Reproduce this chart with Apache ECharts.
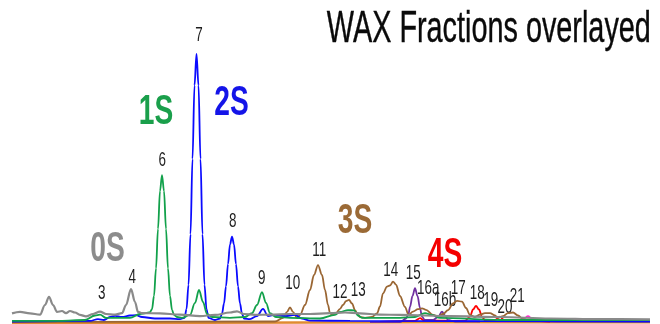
<!DOCTYPE html>
<html>
<head>
<meta charset="utf-8">
<script src="https://cdn.jsdelivr.net/npm/echarts@6/dist/echarts.min.js"></script>
<style>
  html, body { margin: 0; padding: 0; background: #ffffff; }
  #chart { width: 660px; height: 324px; }
</style>
</head>
<body>
<div id="chart"></div>
<script>
// Overlaid chromatograms of the WAX fractions: [retention time (min), detector signal]
const fraction0S = [
  [1.2, 3.2], [2.0, 3.7], [3.0, 3.2], [4.0, 2.8], [4.5, 6.0], [4.9, 8.7], [5.3, 6.0],
  [5.7, 3.7], [6.2, 4.0], [6.6, 3.3], [7.0, 4.0], [7.5, 3.5], [8.0, 2.7], [8.6, 2.2],
  [9.3, 3.0], [10.0, 3.8], [10.6, 3.0], [11.5, 2.8], [12.2, 3.3], [12.6, 6.0], [13.1, 11.3],
  [13.5, 7.0], [13.8, 3.7], [14.2, 3.3], [16.0, 3.2], [18.0, 2.8], [20.0, 2.3], [21.5, 2.7],
  [23.0, 3.5], [23.7, 3.9], [24.4, 3.0], [25.5, 2.7], [27.0, 2.8], [29.0, 3.0], [31.0, 3.0],
  [33.0, 3.3], [34.5, 3.5], [36.0, 3.2], [38.0, 2.8], [40.0, 2.7], [45.0, 2.3], [50.0, 2.0],
  [55.0, 1.5], [60.0, 1.3], [65.0, 1.2]
];
const fraction1S = [
  [1.2, 0.7], [6.0, 0.7], [8.5, 1.0], [9.5, 2.5], [10.0, 2.8], [10.6, 1.7], [11.5, 1.7],
  [13.0, 1.7], [14.0, 3.0], [14.6, 3.3], [15.0, 3.6], [15.2, 4.6], [15.4, 9.0], [15.6, 18.2],
  [15.8, 31.4], [16.0, 44.0], [16.2, 49.3], [16.4, 44.0], [16.6, 31.4], [16.8, 18.2],
  [17.0, 9.0], [17.2, 4.4], [17.4, 2.7], [17.7, 2.0], [18.2, 1.7], [19.0, 2.7], [19.5, 6.7],
  [19.9, 11.0], [20.3, 7.0], [20.7, 3.0], [21.2, 2.0], [23.0, 1.7], [24.5, 2.0], [25.2, 3.3],
  [25.7, 6.0], [26.2, 10.3], [26.6, 6.7], [27.0, 3.3], [27.6, 2.0], [29.0, 1.7], [32.0, 1.5],
  [33.5, 2.7], [34.0, 3.7], [34.8, 4.3], [35.4, 4.2], [35.8, 2.5], [36.2, 1.7], [40.0, 1.7],
  [41.5, 2.0], [42.5, 3.3], [43.2, 2.7], [44.0, 1.7], [50.0, 1.0], [65.0, 1.0]
];
const fraction2S = [
  [1.2, 0.5], [9.0, 0.7], [9.8, 1.3], [10.4, 1.0], [11.0, 2.0], [11.5, 2.4], [12.2, 2.0],
  [13.0, 2.5], [13.6, 2.6], [14.2, 2.0], [15.5, 1.5], [17.0, 1.5], [18.0, 1.3],
  [18.45, 1.7], [18.65, 4.6], [18.85, 12.7], [19.05, 29.6], [19.25, 54.7], [19.45, 79.2],
  [19.65, 89.7], [19.85, 79.2], [20.05, 54.7], [20.25, 29.6], [20.45, 12.7], [20.65, 4.6],
  [20.85, 1.7], [21.5, 1.0], [22.0, 1.5], [22.2, 3.1], [22.4, 6.5], [22.6, 12.2], [22.8, 19.6],
  [23.0, 26.2], [23.2, 28.8], [23.4, 26.2], [23.6, 19.6], [23.8, 12.2], [24.0, 6.5],
  [24.2, 3.1], [24.4, 1.5], [25.0, 1.3], [25.7, 2.3], [26.3, 4.7], [26.8, 2.3], [27.5, 2.7],
  [28.5, 2.3], [29.5, 2.7], [30.2, 1.5], [31.0, 0.8], [35.0, 0.7], [65.0, 0.5]
];
const fraction3S = [
  [1.2, 0.3], [27.5, 0.5], [28.3, 1.7], [28.7, 3.7], [29.0, 5.2], [29.3, 3.7], [29.7, 1.7],
  [30.0, 2.7], [30.5, 6.0], [31.0, 11.0], [31.4, 16.0], [31.8, 19.3], [32.2, 16.0],
  [32.5, 11.0], [32.8, 6.0], [33.0, 3.3], [33.2, 2.7], [33.6, 3.3], [34.0, 4.7], [34.3, 6.0],
  [34.6, 7.3], [34.9, 7.7], [35.2, 6.5], [35.5, 4.3], [35.8, 2.7], [36.0, 2.0], [36.5, 1.7],
  [37.2, 2.0], [37.7, 3.2], [38.0, 5.5], [38.3, 9.9], [38.7, 12.1], [39.0, 12.5], [39.3, 13.8],
  [39.6, 12.8], [40.0, 9.0], [40.5, 5.4], [40.85, 2.7], [41.3, 3.8], [41.8, 4.6], [42.2, 4.9],
  [42.6, 4.4], [43.3, 2.7], [43.8, 2.2], [44.3, 3.0], [44.8, 4.3], [45.3, 6.5], [45.7, 7.4],
  [46.2, 7.1], [46.6, 5.0], [47.0, 2.7], [47.5, 2.0], [48.0, 2.8], [48.5, 3.3], [49.0, 3.3],
  [49.5, 2.5], [49.8, 1.7], [50.3, 2.3], [50.8, 3.3], [51.3, 3.5], [51.8, 2.5], [52.3, 1.3],
  [53.0, 0.8], [56.0, 0.5], [65.0, 0.5]
];
const fraction4S = [
  [38.0, 0.4], [41.5, 0.7], [42.0, 1.6], [42.4, 0.9], [46.5, 0.7], [47.0, 2.1], [47.3, 4.5],
  [47.6, 5.7], [47.9, 4.5], [48.2, 2.1], [48.5, 0.9], [49.5, 1.0], [50.0, 2.1], [50.4, 1.0],
  [55.0, 0.5]
];
const fractionPurple = [
  [37.0, 0.3], [40.0, 0.3], [40.6, 1.5], [40.85, 3.0], [41.0, 5.4], [41.25, 9.0], [41.5, 11.6],
  [41.75, 9.0], [42.0, 5.0], [42.2, 2.1], [42.5, 1.0], [43.3, 1.0], [43.8, 2.0], [44.2, 3.8],
  [44.5, 2.5], [44.8, 1.0], [45.5, 0.5], [48.0, 0.5]
];
const fractionMagenta = [
  [50.0, 0.5], [52.0, 0.6], [52.4, 1.5], [52.8, 2.3], [53.2, 1.5], [53.6, 0.6], [56.0, 0.5]
];
const fractionOrange = [
  [1.2, 0.1], [20.0, 0.1], [42.0, 0.2], [65.0, 0.2]
];

// Peak numbers, anchored in [time, signal]
const peakNames  = ['3', '4', '6', '7', '8', '9', '10', '11', '12', '13', '14', '15', '16a', '16b', '17', '18', '19', '20', '21'];
const peakTimes  = [10.17, 13.23, 16.23, 19.9, 23.27, 26.17, 29.27, 31.93, 34.0, 35.83, 39.07, 41.33, 42.83, 44.5, 45.83, 47.73, 49.07, 50.5, 51.73];
const peakSignal = [9.9, 15.4, 54.3, 96.0, 33.8, 14.9, 13.2, 24.3, 10.4, 11.0, 17.7, 16.7, 11.6, 7.7, 11.6, 9.9, 7.7, 5.2, 8.8];

// Fraction names, anchored in [time, signal]
const fractionNames  = ['0S', '1S', '2S', '3S', '4S'];
const fractionTimes  = [10.75, 15.6, 23.15, 35.5, 44.5];
const fractionSignal = [24.7, 70.2, 73.2, 34.0, 22.7];
const fractionColors = ['#8c8c8c', '#1a9f4b', '#1414e8', '#9b6a36', '#f40000'];

const chartTitle = 'WAX Fractions overlayed';

const FONT = '"Liberation Sans", Arial, sans-serif';
const NARROW = 0.655;

function trace(name, data, color, width) {
  return {
    name: name,
    type: 'line',
    data: data,
    symbol: 'none',
    smooth: 0.35,
    smoothMonotone: 'x',
    clip: false,
    lineStyle: { color: color, width: width || 1.8 },
    silent: true
  };
}

function textSeries(name, data, styleFor) {
  return {
    name: name,
    type: 'custom',
    data: data,
    clip: false,
    silent: true,
    encode: { x: 0, y: 1 },
    renderItem: function (params, api) {
      const pt = api.coord([api.value(0), api.value(1)]);
      const s = styleFor(params.dataIndex);
      return {
        type: 'text',
        x: pt[0],
        y: pt[1],
        scaleX: s.scale,
        style: {
          text: s.text,
          fontFamily: FONT,
          fontSize: s.size,
          fontWeight: s.weight,
          fill: s.color,
          align: 'center',
          verticalAlign: 'middle'
        }
      };
    }
  };
}

const chart = echarts.init(document.getElementById('chart'), null, { renderer: 'canvas' });

chart.setOption({
  animation: false,
  backgroundColor: '#ffffff',
  grid: { left: 0, right: 0, top: 23, bottom: 1 },
  xAxis: { type: 'value', min: 0, max: 66, show: false },
  yAxis: { type: 'value', min: 0, max: 100, show: false },
  graphic: [{
    type: 'text',
    right: 9,
    top: 8,
    scaleX: NARROW,
    style: {
      text: chartTitle,
      fontFamily: FONT,
      fontSize: 44,
      fill: '#0a0a0a',
      stroke: '#0a0a0a',
      lineWidth: 0.4
    }
  }],
  series: [
    trace('orange', fractionOrange, '#e08a30', 2.4),
    trace('magenta', fractionMagenta, '#ff2ed0'),
    trace('4S', fraction4S, '#ff0000'),
    trace('purple', fractionPurple, '#7030a0'),
    trace('3S', fraction3S, '#9a6633'),
    trace('2S', fraction2S, '#0a0aff'),
    trace('1S', fraction1S, '#12a14b'),
    trace('0S', fraction0S, '#8a8a8a', 2.2),
    textSeries('peaks', peakNames.map(function (n, i) { return [peakTimes[i], peakSignal[i]]; }),
      function (i) { return { text: peakNames[i], size: 21, weight: 'normal', color: '#1e1e1e', scale: 0.64 }; }),
    textSeries('fractions', fractionNames.map(function (n, i) { return [fractionTimes[i], fractionSignal[i]]; }),
      function (i) { return { text: fractionNames[i], size: 43, weight: 'bold', color: fractionColors[i], scale: NARROW }; })
  ]
});
</script>
</body>
</html>
